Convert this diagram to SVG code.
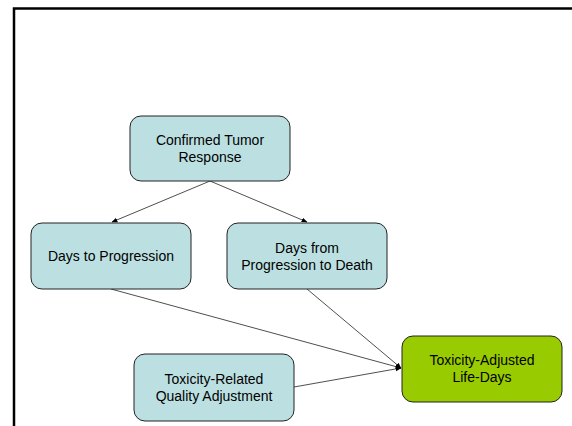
<svg xmlns="http://www.w3.org/2000/svg" width="572" height="426" viewBox="0 0 572 426">
<defs>
<style>
.n{fill:#BCE0E2;stroke:#222;stroke-width:1}
.g{fill:#99CC00;stroke:#222;stroke-width:1}
text{font-family:"Liberation Sans",Arial,sans-serif;font-size:14px;fill:#000;text-anchor:middle}
.c line{stroke:#222;stroke-width:0.8;marker-end:url(#a)}
</style>
<marker id="a" viewBox="0 0 10 10" refX="9" refY="5" markerWidth="6" markerHeight="6" markerUnits="userSpaceOnUse" orient="auto"><path d="M0,1 L10,5 L0,9 z" fill="#000"/></marker>
</defs>
<rect width="572" height="426" fill="#fff"/>
<path d="M14,426 V8.5 H572" fill="none" stroke="#000" stroke-width="2.5"/>
<g class="c" id="connectors">
<line x1="210" y1="181" x2="112" y2="222"/>
<line x1="210" y1="181" x2="307" y2="222"/>
<line x1="111" y1="289" x2="401" y2="368"/>
<line x1="307" y1="289" x2="401" y2="368"/>
<line x1="294" y1="387" x2="401" y2="368"/>
</g>
<g id="confirmed">
<rect class="n" x="130" y="116" width="160" height="65" rx="11"/>
<text x="210" y="145">Confirmed Tumor</text>
<text x="210" y="162">Response</text>
</g>
<g id="dtp">
<rect class="n" x="31" y="223" width="160" height="66" rx="11"/>
<text x="111" y="261">Days to Progression</text>
</g>
<g id="dfp">
<rect class="n" x="227" y="223" width="160" height="66" rx="11"/>
<text x="307" y="253">Days from</text>
<text x="307" y="270">Progression to Death</text>
</g>
<g id="trqa">
<rect class="n" x="134" y="354" width="160" height="67" rx="11"/>
<text x="214" y="384">Toxicity-Related</text>
<text x="214" y="401">Quality Adjustment</text>
</g>
<g id="tald">
<rect class="g" x="402" y="336" width="160" height="66" rx="11"/>
<text x="482" y="365">Toxicity-Adjusted</text>
<text x="482" y="382">Life-Days</text>
</g>
</svg>
